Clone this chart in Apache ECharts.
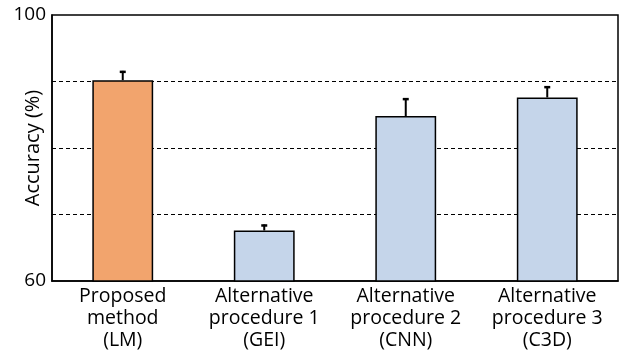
<!DOCTYPE html>
<html><head><meta charset="utf-8">
<script src="https://cdn.jsdelivr.net/npm/echarts@6/dist/echarts.min.js"></script>
<style>html,body{margin:0;padding:0;background:#fff}#c{width:628px;height:354px}</style>
</head><body><div id="c"></div>
<script>
const categories = ['Proposed\nmethod\n(LM)', 'Alternative\nprocedure 1\n(GEI)', 'Alternative\nprocedure 2\n(CNN)', 'Alternative\nprocedure 3\n(C3D)'];
const accuracy = [90.2, 67.6, 84.8, 87.6];
const errorUp = [1.4, 0.9, 2.7, 1.7];
const barColors = ['#F2A46D', '#C5D5EA', '#C5D5EA', '#C5D5EA'];
const yTickLabels = [60, 100];

const FONT = 'Open Sans';
const chart = echarts.init(document.getElementById('c'));
chart.setOption({
  animation: false,
  grid: { left: 52, right: 10, top: 15, bottom: 73, outerBoundsMode: 'none', containLabel: false,
    show: true, borderColor: '#000', borderWidth: 1.5, backgroundColor: 'transparent' },
  xAxis: {
    type: 'category', data: categories,
    axisLine: { lineStyle: { color: '#000', width: 1.5 } },
    axisTick: { show: false },
    axisLabel: { interval: 0, hideOverlap: false, color: '#000', fontFamily: FONT, fontSize: 19.5, lineHeight: 22, margin: 4 }
  },
  yAxis: {
    type: 'value', min: 60, max: 100, interval: 10,
    name: 'Accuracy (%)', nameLocation: 'middle', nameGap: 9, nameMoveOverlap: false,
    nameTextStyle: { color: '#000', fontFamily: FONT, fontSize: 20 },
    axisLine: { show: true, lineStyle: { color: '#000', width: 1.5 } },
    axisTick: { show: false },
    axisLabel: { color: '#000', fontFamily: FONT, fontSize: 19, margin: 6,
      formatter: v => yTickLabels.includes(v) ? String(v) : '' },
    splitLine: { show: true, showMinLine: false, showMaxLine: false, lineStyle: { color: '#000', type: [4, 3], width: 1 } }
  },
  series: [
    {
      type: 'bar', barWidth: '43%',
      data: accuracy.map((v, i) => ({ value: v, itemStyle: { color: barColors[i] } })),
      itemStyle: { borderColor: '#000', borderWidth: 1.5 },
      z: 3
    },
    {
      type: 'custom', z: 4,
      data: accuracy.map((v, i) => [i, v, v + errorUp[i]]),
      renderItem: (params, api) => {
        const b = api.coord([api.value(0), api.value(1)]);
        const t = api.coord([api.value(0), api.value(2)]);
        return { type: 'group', children: [
          { type: 'line', shape: { x1: b[0], y1: b[1], x2: t[0], y2: t[1] }, style: { stroke: '#000', lineWidth: 2 } },
          { type: 'line', shape: { x1: t[0] - 3, y1: t[1] + 1, x2: t[0] + 3, y2: t[1] + 1 }, style: { stroke: '#000', lineWidth: 2.5 } }
        ]};
      }
    }
  ]
});
</script></body></html>
